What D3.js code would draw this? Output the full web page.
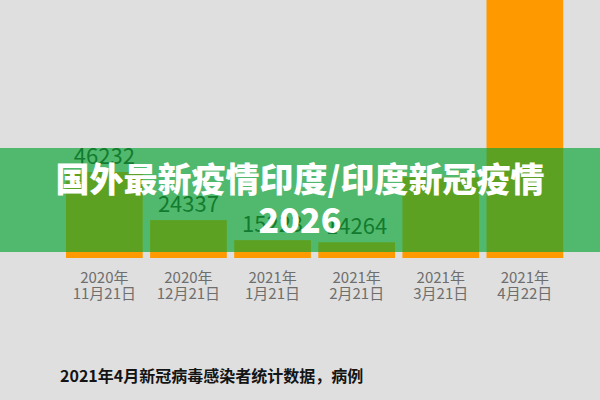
<!DOCTYPE html>
<html lang="zh">
<head>
<meta charset="utf-8">
<title>印度新冠疫情</title>
<script src="https://cdn.jsdelivr.net/npm/d3@7"></script>
<style>
  body { margin: 0; background: #dfdfdf; }
  svg { display: block; }
  text { font-family: "Noto Sans CJK SC", "Noto Sans", sans-serif; }
</style>
</head>
<body>
<script>
// data
var years = ["2020年", "2020年", "2021年", "2021年", "2021年", "2021年"];
var days = ["11月21日", "12月21日", "1月21日", "2月21日", "3月21日", "4月22日"];
var cases = [46232, 24337, 15223, 14264, 43846, 332730];
var shownLabels = [true, true, true, true, false, false];

var titleLines = ["国外最新疫情印度/印度新冠疫情", "2026"];
var caption = "2021年4月新冠病毒感染者统计数据，病例";

var w = 600, h = 400;
var base = 258;

var svg = d3.select("body").append("svg")
  .attr("width", w)
  .attr("height", h);

svg.append("rect")
  .attr("width", w)
  .attr("height", h)
  .attr("fill", "#dfdfdf");

var x = d3.scaleBand()
  .domain(d3.range(cases.length))
  .range([62.3, 566.9])
  .paddingInner(0.088)
  .paddingOuter(0.044);

// axis does not start at zero in the original
var y = d3.scaleLinear()
  .domain([7100, 46232])
  .range([base, 172]);

// bars
svg.selectAll("rect.bar")
  .data(cases)
  .enter()
  .append("rect")
  .attr("class", "bar")
  .attr("x", function(d, i) { return x(i); })
  .attr("y", function(d) { return y(d); })
  .attr("width", x.bandwidth())
  .attr("height", function(d) { return base - y(d); })
  .attr("fill", "#ff9900");

// value labels
svg.selectAll("text.val")
  .data(cases.filter(function(d, i) { return shownLabels[i]; }))
  .enter()
  .append("text")
  .attr("class", "val")
  .attr("x", function(d) { return x(cases.indexOf(d)) + x.bandwidth() / 2; })
  .attr("y", function(d) { return y(d) - 8; })
  .attr("text-anchor", "middle")
  .attr("font-size", "22px")
  .attr("fill", "#2a2a2a")
  .text(function(d) { return d; });

// category labels (two lines)
var cats = svg.selectAll("text.cat")
  .data(days)
  .enter()
  .append("text")
  .attr("class", "cat")
  .attr("text-anchor", "middle")
  .attr("font-size", "15px")
  .attr("fill", "#6e6e6e");

cats.append("tspan")
  .attr("x", function(d, i) { return x(i) + x.bandwidth() / 2; })
  .attr("y", 283)
  .text(function(d, i) { return years[i]; });

cats.append("tspan")
  .attr("x", function(d, i) { return x(i) + x.bandwidth() / 2; })
  .attr("y", 299)
  .text(function(d) { return d; });

// caption
svg.append("text")
  .attr("x", 60)
  .attr("y", 382)
  .attr("font-size", "16px")
  .attr("font-weight", "bold")
  .attr("fill", "#141414")
  .text(caption);

// green banner with title
svg.append("rect")
  .attr("x", 0)
  .attr("y", 148)
  .attr("width", w)
  .attr("height", 104)
  .attr("fill", "rgb(8,165,50)")
  .attr("fill-opacity", 0.66);

svg.selectAll("text.title")
  .data(titleLines)
  .enter()
  .append("text")
  .attr("class", "title")
  .attr("x", w / 2)
  .attr("y", function(d, i) { return 192 + i * 41; })
  .attr("text-anchor", "middle")
  .attr("font-size", "34px")
  .attr("font-weight", 900)
  .attr("fill", "#ffffff")
  .text(function(d) { return d; });
</script>
</body>
</html>
